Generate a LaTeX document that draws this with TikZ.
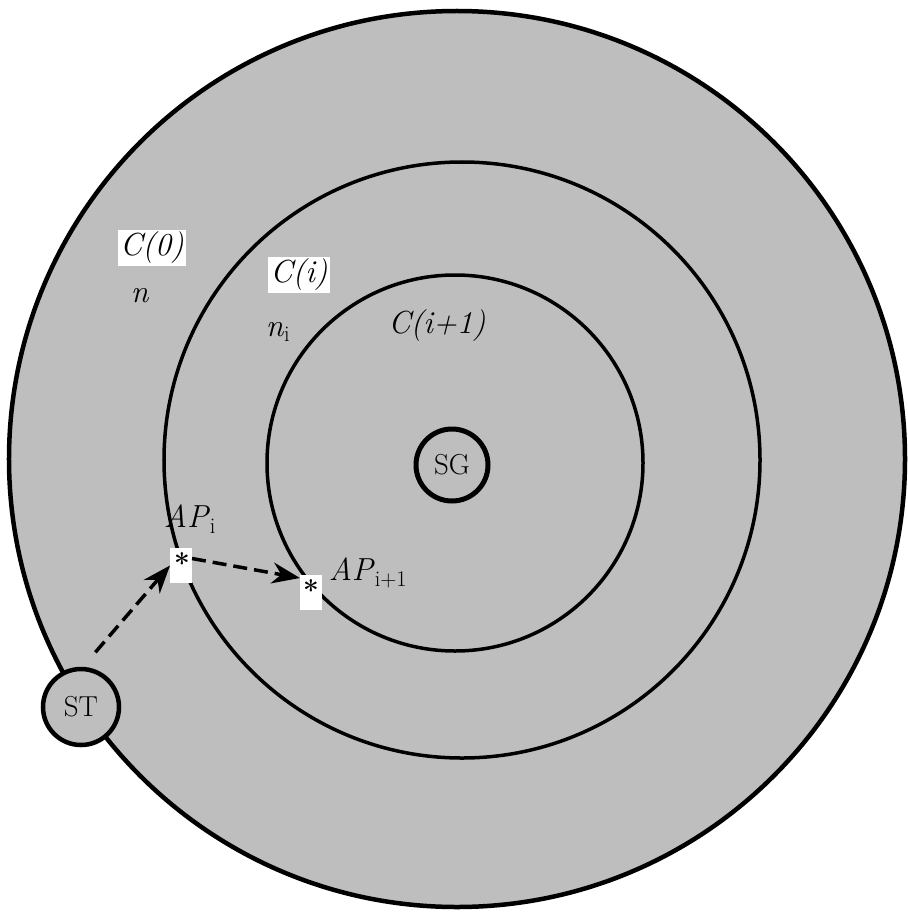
\documentclass[tikz,border=0pt]{standalone}
\usetikzlibrary{arrows.meta}
\definecolor{halftone}{RGB}{190,190,190}
\begin{document}
\begin{tikzpicture}[x=1bp,y=-1bp,
  ring/.style={circle,draw=black,fill=halftone,inner sep=0pt,outer sep=0pt},
  lbl/.style={font=\fontsize{32}{38}\selectfont,inner sep=1bp},
  wlbl/.style={lbl,fill=white,inner sep=2bp},
  rmlbl/.style={font=\fontsize{29}{34}\selectfont},
  apbox/.style={fill=white,minimum width=22bp,minimum height=35bp,inner sep=0pt,outer sep=0pt},
  starlbl/.style={font=\fontsize{28}{32}\selectfont\bfseries,inner sep=0pt},
  conn/.style={line width=3.5bp,dash pattern=on 14bp off 7bp,
    -{Stealth[length=28bp,width=21bp,inset=9bp]}}]
\useasboundingbox (0,0) rectangle (908,914);
% concentric regions
\node[ring,line width=4.5bp,minimum size=896bp] (c0) at (457,459) {};
\node[ring,line width=3.5bp,minimum size=596bp] (ci) at (462,460) {};
\node[ring,line width=3.5bp,minimum size=376bp] (cj) at (455,463) {};
% goal and start
\node[ring,line width=5bp,minimum size=72bp,rmlbl] (sg) at (452,465) {SG};
\node[ring,line width=4.5bp,minimum size=76bp,rmlbl] (st) at (81,707) {ST};
% labels
\node[wlbl] (l0) at (152,248) {\textit{C(0)}};
\node[lbl] (ln) at (140,296) {\textit{n}};
\node[wlbl] (li) at (299,275) {\textit{C(i)}};
\node[lbl] (lni) at (278,332) {\textit{n}\textsubscript{i}};
\node[lbl] (lj) at (437,326) {\textit{C(i+1)}};
% access points
\node[apbox] (api) at (181,565.5) {};
\node[starlbl] (apis) at (182,563) {*};
\node[apbox] (apj) at (311,592.5) {};
\node[starlbl] (apjs) at (311,590) {*};
\node[lbl] (lapi) at (190,519) {\textit{AP}\textsubscript{i}};
\node[lbl] (lapj) at (368,573) {\textit{AP}\textsubscript{i+1}};
% connectors
\draw[conn,shorten <=22bp] (st.north) -- (api.west);
\draw[conn] ([yshift=7bp]api.east) -- ([yshift=-3bp]apj.north west);
\end{tikzpicture}
\end{document}
